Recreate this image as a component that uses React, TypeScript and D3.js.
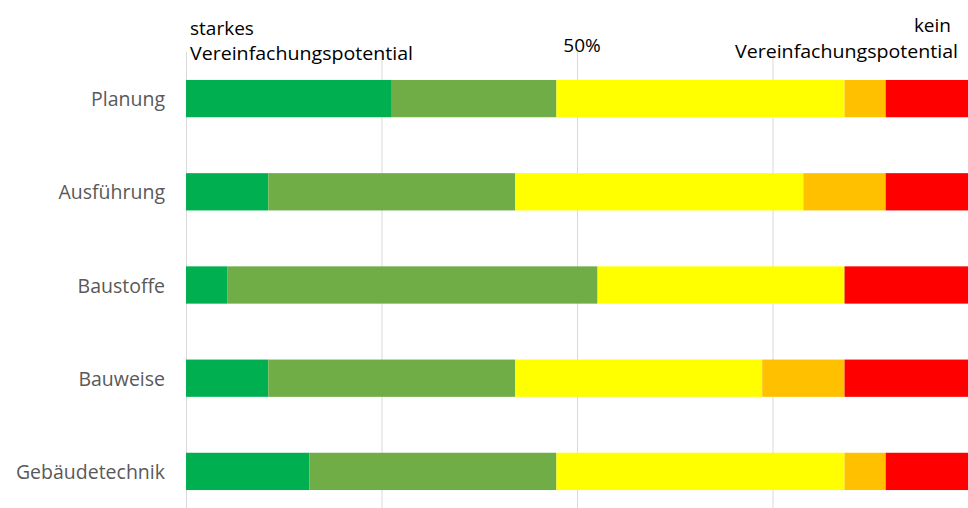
import React from "react";
import * as d3 from "d3";

const categories = ["Planung", "Ausführung", "Baustoffe", "Bauweise", "Gebäudetechnik"];
const seriesKeys = ["s1", "s2", "s3", "s4", "s5"];
const seriesColors = ["#00B050", "#70AD47", "#FFFF00", "#FFC000", "#FF0000"];
const s1 = [5, 2, 1, 2, 3];
const s2 = [4, 6, 9, 6, 6];
const s3 = [7, 7, 6, 6, 7];
const s4 = [1, 2, 0, 2, 1];
const s5 = [2, 2, 3, 3, 2];
const gridTicks = [0, 0.25, 0.5, 0.75, 1];

const W = 968;
const H = 508;
const left = 186;
const right = 968;
const top = 52;
const bottom = 518;
const FONT = "'Open Sans', 'Noto Sans', sans-serif";

export default function App() {
  const rows = categories.map((c, i) => {
    const vals = [s1[i], s2[i], s3[i], s4[i], s5[i]];
    const total = d3.sum(vals);
    const o: any = { cat: c };
    seriesKeys.forEach((k, j) => (o[k] = vals[j] / total));
    return o;
  });
  const stacked = d3.stack().keys(seriesKeys)(rows as any);
  const x = d3.scaleLinear().domain([0, 1]).range([left, right]);
  const y = d3.scaleBand().domain(categories).range([top, bottom]).paddingInner(0.6).paddingOuter(0.3);

  return (
    <svg width={W} height={H} style={{ position: "absolute", left: 0, top: 0, background: "#fff" }}>
      {gridTicks.map((t) => (
        <line key={t} x1={x(t) + 0.5} x2={x(t) + 0.5} y1={top} y2={H} stroke="#D9D9D9" strokeWidth={1} />
      ))}
      {stacked.map((layer, j) => (
        <g key={layer.key} fill={seriesColors[j]}>
          {layer.map((d: any, i: number) => (
            <rect
              key={i}
              x={x(d[0])}
              width={Math.max(0, x(d[1]) - x(d[0]))}
              y={y(categories[i])}
              height={y.bandwidth()}
            />
          ))}
        </g>
      ))}
      {categories.map((c) => (
        <text
          key={c}
          x={165}
          y={(y(c) as number) + y.bandwidth() / 2}
          textAnchor="end"
          dominantBaseline="central"
          fill="#595959"
          fontFamily={FONT}
          fontSize={19.5}
        >
          {c}
        </text>
      ))}
      <g fontFamily={FONT} fontSize={19} fill="#000">
        <text x={190} y={35}>starkes</text>
        <text x={190} y={60} textLength={223} lengthAdjust="spacingAndGlyphs">Vereinfachungspotential</text>
        <text x={x(0.5) + 5} y={52} textAnchor="middle">50%</text>
        <text x={951} y={32} textAnchor="end">kein</text>
        <text x={958} y={58} textAnchor="end" textLength={223} lengthAdjust="spacingAndGlyphs">Vereinfachungspotential</text>
      </g>
    </svg>
  );
}
